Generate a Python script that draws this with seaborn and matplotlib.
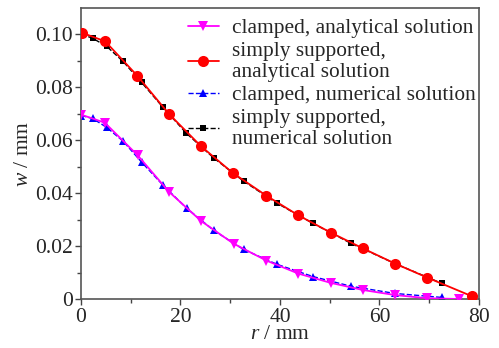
import numpy as np
import pandas as pd
import matplotlib
matplotlib.use("Agg")
import matplotlib.pyplot as plt
import seaborn as sns

# clamped, analytical solution
r_ca = [0.1, 4.8, 11.4, 17.7, 24.2, 30.7, 37.3, 43.7, 50.2, 56.7, 63.1, 69.6, 76.0]
w_ca = [0.0697, 0.0667, 0.0544, 0.0406, 0.0295, 0.0210, 0.0146, 0.0097, 0.0062, 0.0035, 0.0016, 0.0004, 0.0001]

# simply supported, analytical solution
r_sa = [0.3, 4.9, 11.3, 17.7, 24.2, 30.6, 37.3, 43.7, 50.2, 56.7, 63.1, 69.6, 78.5]
w_sa = [0.1006, 0.0974, 0.0845, 0.0700, 0.0577, 0.0476, 0.0391, 0.0317, 0.0252, 0.0192, 0.0135, 0.0082, 0.0012]

# clamped, numerical solution
r_cn = [0.1, 2.35, 5.2, 8.5, 12.2, 16.5, 21.3, 26.7, 32.7, 39.4, 46.6, 54.3, 63.1, 72.5]
w_cn = [0.0694, 0.0683, 0.0649, 0.0597, 0.0518, 0.0431, 0.0343, 0.0260, 0.0188, 0.0132, 0.0086, 0.0049, 0.0022, 0.0007]

# simply supported, numerical solution
r_sn = [0.1, 2.35, 5.2, 8.5, 12.2, 16.5, 21.2, 26.8, 32.7, 39.4, 46.6, 54.3, 63.1, 72.5]
w_sn = [0.1001, 0.0986, 0.0955, 0.0898, 0.0819, 0.0725, 0.0627, 0.0532, 0.0446, 0.0363, 0.0287, 0.0211, 0.0135, 0.0060]

labels = ["clamped, analytical solution",
          "simply supported,\nanalytical solution",
          "clamped, numerical solution",
          "simply supported,\nnumerical solution"]

sns.set_style("ticks")
plt.rcParams['font.family'] = ['Liberation Serif', 'DejaVu Serif']
plt.rcParams['mathtext.fontset'] = 'custom'
plt.rcParams['mathtext.it'] = 'Liberation Serif:italic'
plt.rcParams['mathtext.rm'] = 'Liberation Serif'

fig, ax = plt.subplots(figsize=(4.99, 3.48), dpi=100)
fig.subplots_adjust(left=0.162, right=0.96, top=0.977, bottom=0.14)

# numerical first, analytical drawn over them
sns.lineplot(x=r_cn, y=w_cn, ax=ax, color='blue', linestyle='--', lw=1.0,
             marker='^', markersize=6, markeredgewidth=0, label=labels[2], zorder=2)
sns.lineplot(x=r_sn, y=w_sn, ax=ax, color='black', linestyle='--', lw=1.0,
             marker='s', markersize=5, markeredgewidth=0, label=labels[3], zorder=2)
sns.lineplot(x=r_ca, y=w_ca, ax=ax, color='magenta', lw=1.3,
             marker='v', markersize=6.5, markeredgewidth=0, label=labels[0], zorder=3)
sns.lineplot(x=r_sa, y=w_sa, ax=ax, color='red', lw=1.3,
             marker='o', markersize=8, markeredgewidth=0, label=labels[1], zorder=3)

ax.set_xlim(0, 80)
ax.set_ylim(0, 0.11)
ax.set_xticks([0, 20, 40, 60, 80])
ax.set_xticks([10, 30, 50, 70], minor=True)
ax.set_yticks([0, 0.02, 0.04, 0.06, 0.08, 0.10])
ax.set_yticks([0.01, 0.03, 0.05, 0.07, 0.09], minor=True)
ax.set_yticklabels(['0', '0.02', '0.04', '0.06', '0.08', '0.10'])
ax.tick_params(axis='both', which='major', labelsize=15.5, direction='out', length=4, width=1,
               color='#444444', pad=2)
ax.tick_params(axis='both', which='minor', direction='out', length=3, width=1, color='#444444')
for s in ax.spines.values():
    s.set_color('#555555')
    s.set_linewidth(1.2)

ax.set_xlabel(r'$r$ / mm', fontsize=15.5, labelpad=-1)
ax.set_ylabel(r'$w$ / mm', fontsize=15.5, labelpad=1)

h, l = ax.get_legend_handles_labels()
order = [2, 3, 0, 1]
leg = ax.legend([h[i] for i in order], [l[i] for i in order], loc='upper left',
                bbox_to_anchor=(0.269, 0.965), frameon=False, fontsize=15.4,
                handlelength=1.45, handletextpad=0.6, labelspacing=0.16, borderpad=0, borderaxespad=0)
for t in leg.get_texts():
    t.set_linespacing(1.15)

fig.savefig("out.png", dpi=100)
